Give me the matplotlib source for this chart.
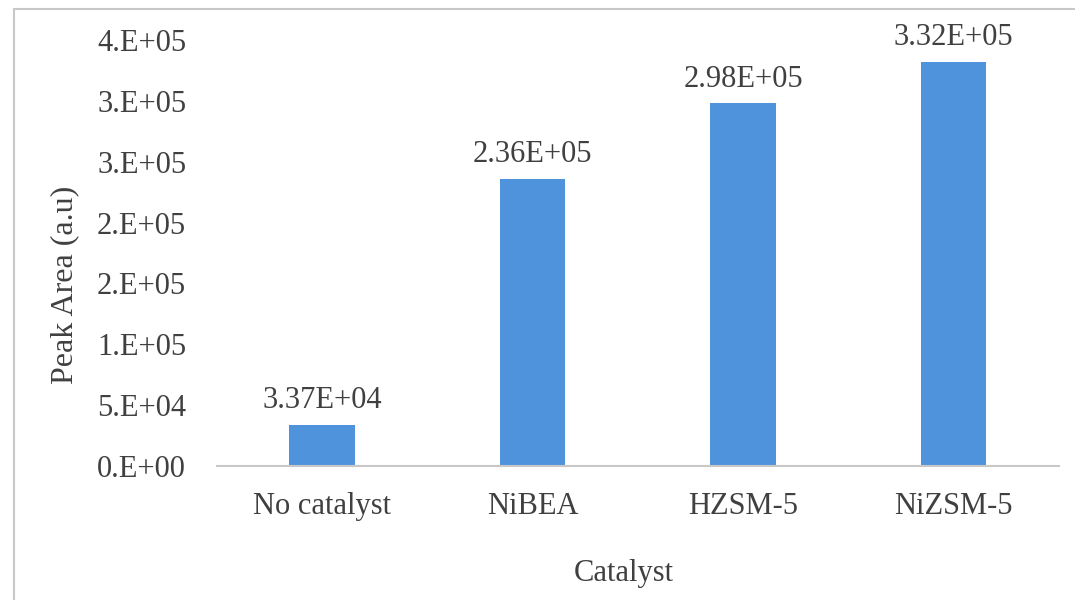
import matplotlib
matplotlib.use("Agg")
import matplotlib.pyplot as plt
from matplotlib.patches import Rectangle

# 데이터
categories = ["No catalyst", "NiBEA", "HZSM-5", "NiZSM-5"]
peak_area = [33700, 236000, 298000, 332000]
bar_labels = ["3.37E+04", "2.36E+05", "2.98E+05", "3.32E+05"]
y_ticks = [0, 50000, 100000, 150000, 200000, 250000, 300000, 350000]
y_tick_labels = ["0.E+00", "5.E+04", "1.E+05", "2.E+05", "2.E+05", "3.E+05", "3.E+05", "4.E+05"]

plt.rcParams['font.family'] = ['Liberation Serif', 'DejaVu Serif']
text_color = "#404040"

fig = plt.figure(figsize=(10.75, 6), dpi=100)
ax = fig.add_axes([0.2016, 0.2233, 0.7835, 0.710])

x = list(range(len(categories)))
ax.bar(x, peak_area, width=0.31, color="#4F93DC")
for xi, v, lab in zip(x, peak_area, bar_labels):
    ax.annotate(lab, (xi, v), xytext=(0, 7), textcoords="offset points",
                ha="center", va="bottom", fontsize=22, color=text_color)

ax.set_xlim(-0.5, len(categories) - 0.5)
ax.set_ylim(0, 350000)
ax.set_xticks(x)
ax.set_xticklabels(categories, fontsize=22, color=text_color)
ax.set_yticks(y_ticks)
ax.set_yticklabels(y_tick_labels, fontsize=22, color=text_color)
ax.tick_params(axis="both", length=0)
ax.tick_params(axis="x", pad=19)
ax.tick_params(axis="y", pad=22)

for s in ["top", "right", "left"]:
    ax.spines[s].set_visible(False)
ax.spines["bottom"].set_color("#C8C8C8")
ax.spines["bottom"].set_linewidth(1.5)

fig.text(0.5805, 0.045, "Catalyst", ha="center", va="center", fontsize=22, color=text_color)
fig.text(0.06, 0.525, "Peak Area (a.u)", ha="center", va="center", rotation=90,
         fontsize=23, color=text_color)

# 바깥 테두리
fig.patches.append(Rectangle((14 / 1075, -0.1), 1.2, (600 - 9) / 600 + 0.1,
                             transform=fig.transFigure, fill=False,
                             edgecolor="#C8C8C8", linewidth=1.5))

fig.savefig("out.png", dpi=100)
